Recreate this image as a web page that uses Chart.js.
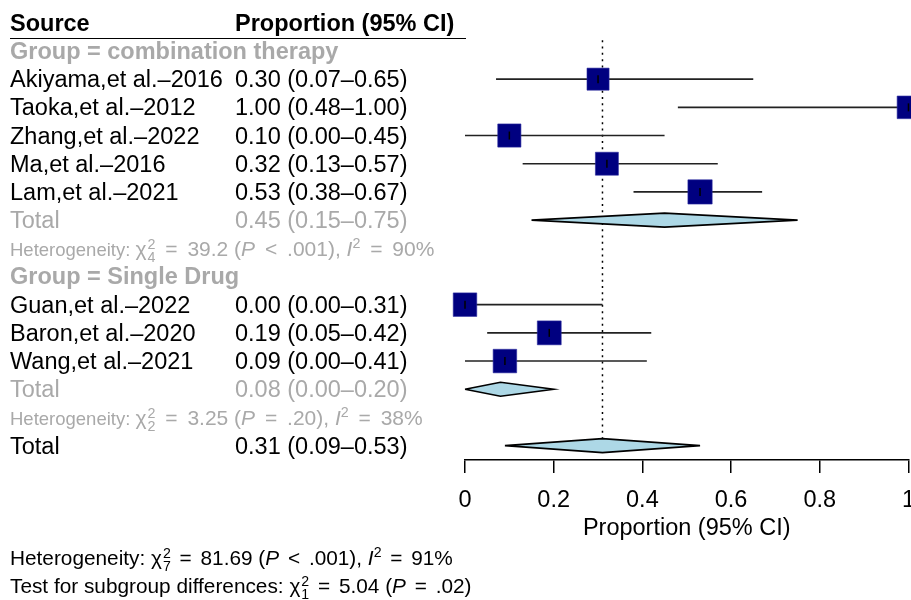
<!DOCTYPE html>
<html>
<head>
<meta charset="utf-8">
<script src="https://cdn.jsdelivr.net/npm/chart.js@4.4.1/dist/chart.umd.min.js"></script>
<style>
  html, body { margin: 0; padding: 0; background: #fff; overflow: hidden; }
  #wrap { position: relative; width: 911px; height: 600px; overflow: hidden; font-family: 'Liberation Sans', Arial, sans-serif; }
  #forest { position: absolute; left: 0; top: 0; }
  .row { position: absolute; left: 0; width: 490px; height: 28px; line-height: 28px; font-size: 23.5px; white-space: nowrap; color: #000; }
  .row > span { position: absolute; top: 0; }
  .c1 { left: 10px; }
  .c2 { left: 235px; }
  .gray { color: #a9a9a9; }
  .bold { font-weight: bold; }
  .het .lab { font-size: 18.5px; }
  .het .m { font-size: 21px; }
  .het .op { margin: 0 4px; }
  .foot .lab, .foot .m { font-size: 20.8px; }
  .foot .op { margin: 0 3px; }
  .ss { display: inline-block; vertical-align: -0.42em; font-size: 0.68em; line-height: 0.95; margin-left: 1px; }
  .ss b { display: block; font-weight: normal; }
  .sup { font-size: 0.68em; vertical-align: 0.55em; line-height: 0; }
  #rule { position: absolute; left: 10px; width: 456px; height: 1.5px; background: #000; }
</style>
</head>
<body>
<div id="wrap">
  <canvas id="forest" width="915" height="600"></canvas>
  <div id="rule"></div>
</div>
<script>
// studies
var studies = ['Akiyama,et al.\u20132016', 'Taoka,et al.\u20132012', 'Zhang,et al.\u20132022', 'Ma,et al.\u20132016', 'Lam,et al.\u20132021',
               'Guan,et al.\u20132022', 'Baron,et al.\u20132020', 'Wang,et al.\u20132021'];
var studyGroup = [0, 0, 0, 0, 0, 1, 1, 1];
var estimate = [0.30, 1.00, 0.10, 0.32, 0.53, 0.00, 0.19, 0.09];
var lower    = [0.07, 0.48, 0.00, 0.13, 0.38, 0.00, 0.05, 0.00];
var upper    = [0.65, 1.00, 0.45, 0.57, 0.67, 0.31, 0.42, 0.41];
var weight   = [12.3, 12.6, 12.9, 12.8, 13.5, 13.1, 13.3, 13.1];

// subgroups
var groups = ['combination therapy', 'Single Drug'];
var groupEst   = [0.45, 0.08];
var groupLower = [0.15, 0.00];
var groupUpper = [0.75, 0.20];
var groupDf    = [4, 2];
var groupChi   = ['39.2', '3.25'];
var groupP     = ['<', '='];
var groupPval  = ['.001', '.20'];
var groupI2    = [90, 38];

// overall
var totalEst = 0.31, totalLower = 0.09, totalUpper = 0.53;
var totalDf = 7, totalChi = '81.69', totalP = '<', totalPval = '.001', totalI2 = 91;
var subDf = 1, subChi = '5.04', subP = '=', subPval = '.02';

// x axis
var xTicks = [0, 0.2, 0.4, 0.6, 0.8, 1];
var xTickLabels = ['0', '0.2', '0.4', '0.6', '0.8', '1'];

function ci(e, l, u) {
  return e.toFixed(2) + ' (' + l.toFixed(2) + '\u2013' + u.toFixed(2) + ')';
}
function op(s) { return ' <span class="op">' + s + '</span> '; }
function chiTxt(label, df, chi, rel, p, i2) {
  var s = '<span class="lab">' + label + ' </span><span class="m">\u03c7<span class="ss"><b>2</b><b>' + df + '</b></span>' +
          op('=') + chi + ' (<i>P</i>' + op(rel) + p + ')';
  if (i2 !== null) s += ', <i>I</i><span class="sup">2</span>' + op('=') + i2 + '%';
  return s + '</span>';
}

// lay out rows: header, then each group
var rows = [{ c1: 'Source', c2: 'Proportion (95% CI)', cls: 'bold' }];
var studyRow = [], groupRow = [];
groups.forEach(function (g, gi) {
  rows.push({ c1: 'Group = ' + g, cls: 'bold gray' });
  studies.forEach(function (s, si) {
    if (studyGroup[si] !== gi) return;
    studyRow[si] = rows.length;
    rows.push({ c1: s, c2: ci(estimate[si], lower[si], upper[si]) });
  });
  groupRow[gi] = rows.length;
  rows.push({ c1: 'Total', c2: ci(groupEst[gi], groupLower[gi], groupUpper[gi]), cls: 'gray' });
  rows.push({ c1: chiTxt('Heterogeneity:', groupDf[gi], groupChi[gi], groupP[gi], groupPval[gi], groupI2[gi]), cls: 'gray het' });
});
var totalRow = rows.length;
rows.push({ c1: 'Total', c2: ci(totalEst, totalLower, totalUpper) });

var family = "'Liberation Sans', Arial, sans-serif";
var dh = 0.249; // diamond half height (row units)

var datasets = [];
// reference line
datasets.push({
  type: 'line', order: 6,
  data: [{ x: totalEst, y: 0.62 }, { x: totalEst, y: totalRow }],
  borderColor: '#000', borderWidth: 1.5, borderDash: [2, 4.3], pointRadius: 0
});
// CI lines
studies.forEach(function (s, i) {
  datasets.push({
    type: 'line', order: 5, clip: false,
    data: [{ x: lower[i], y: studyRow[i] }, { x: upper[i], y: studyRow[i] }],
    borderColor: '#222', borderWidth: 1.6, pointRadius: 0
  });
});
// diamonds
function diamond(e, l, u, r) {
  return [{ x: l, y: r }, { x: e, y: r - dh }, { x: u, y: r }, { x: e, y: r + dh }, { x: l, y: r }];
}
groups.forEach(function (g, gi) {
  datasets.push({
    type: 'line', order: 4, clip: false, fill: 'shape',
    data: diamond(groupEst[gi], groupLower[gi], groupUpper[gi], groupRow[gi]),
    borderColor: '#000', borderWidth: 1.6, backgroundColor: '#add8e6', pointRadius: 0, tension: 0
  });
});
datasets.push({
  type: 'line', order: 4, clip: false, fill: 'shape',
  data: diamond(totalEst, totalLower, totalUpper, totalRow),
  borderColor: '#000', borderWidth: 1.6, backgroundColor: '#add8e6', pointRadius: 0, tension: 0
});
// squares
datasets.push({
  type: 'scatter', order: 3, clip: false,
  data: studies.map(function (s, i) { return { x: estimate[i], y: studyRow[i] }; }),
  pointStyle: 'rect',
  pointRadius: weight.map(function (w) { return w * 1.27; }),
  backgroundColor: '#000080', borderColor: '#2a2aa0', borderWidth: 0.6
});
// estimate ticks
datasets.push({
  type: 'scatter', order: 2, clip: false,
  data: studies.map(function (s, i) { return { x: estimate[i], y: studyRow[i] }; }),
  pointStyle: 'line', rotation: 90, pointRadius: 4,
  borderColor: '#000', borderWidth: 1.5
});

var chart = new Chart(document.getElementById('forest'), {
  data: { datasets: datasets },
  options: {
    responsive: false,
    animation: false,
    events: [],
    layout: { autoPadding: false, padding: { left: 465, right: 0, top: 0, bottom: 59.25 } },
    plugins: { legend: { display: false }, tooltip: { enabled: false } },
    scales: {
      x: {
        type: 'linear', min: 0, max: 1,
        afterBuildTicks: function (axis) { axis.ticks = xTicks.map(function (v) { return { value: v }; }); },
        border: { display: true, color: '#000', width: 1.5 },
        grid: { display: true, drawOnChartArea: false, drawTicks: true, tickLength: 13, color: '#000', lineWidth: 1.5 },
        ticks: {
          color: '#000', padding: 0, maxRotation: 0,
          font: { size: 23.5, family: family, lineHeight: 2.38 },
          callback: function (v) { return xTickLabels[xTicks.indexOf(v)]; }
        },
        title: {
          display: true, text: 'Proportion (95% CI)', color: '#000', padding: { top: -11.65, bottom: 0 },
          font: { size: 23.5, family: family, lineHeight: 1 }
        }
      },
      y: { type: 'linear', reverse: true, min: -0.808, max: 15.509, display: false }
    }
  }
});

// table text placed on the chart's own row scale
var wrap = document.getElementById('wrap');
var yScale = chart.scales.y;
rows.forEach(function (r, n) {
  var div = document.createElement('div');
  div.className = 'row ' + (r.cls || '');
  div.style.top = (yScale.getPixelForValue(n) - 14) + 'px';
  var h = '<span class="c1">' + r.c1 + '</span>';
  if (r.c2) h += '<span class="c2">' + r.c2 + '</span>';
  div.innerHTML = h;
  wrap.appendChild(div);
});
document.getElementById('rule').style.top = (yScale.getPixelForValue(0) + 15) + 'px';

// footer
var foot = [
  chiTxt('Heterogeneity:', totalDf, totalChi, totalP, totalPval, totalI2),
  chiTxt('Test for subgroup differences:', subDf, subChi, subP, subPval, null)
];
foot.forEach(function (t, k) {
  var div = document.createElement('div');
  div.className = 'row foot';
  div.style.top = (557 + 28 * k - 14) + 'px';
  div.innerHTML = '<span class="c1">' + t + '</span>';
  wrap.appendChild(div);
});
</script>
</body>
</html>
